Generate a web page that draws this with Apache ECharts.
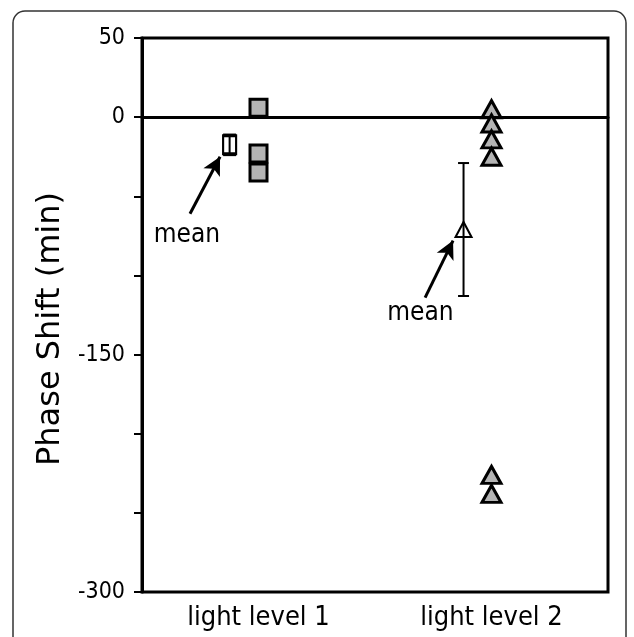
<!DOCTYPE html>
<html>
<head>
<meta charset="utf-8">
<script src="https://cdn.jsdelivr.net/npm/echarts@6/dist/echarts.min.js"></script>
<style>
html, body { margin: 0; padding: 0; background: #fff; }
#main { width: 634px; height: 637px; }
</style>
</head>
<body>
<div id="main"></div>
<script>
var categories = ['light level 1', 'light level 2'];
var yTickLabels = [50, 0, -150, -300];
// single subjects, x = category index + 0.5
var level1Points = [[0.5, 6], [0.5, -23], [0.5, -35]];
var level2Points = [[1.5, 5], [1.5, -4], [1.5, -14], [1.5, -25], [1.5, -226], [1.5, -238]];
// means: [x, mean, low, high]
var level1Mean = [[0.376, -17.5, -24, -11]];
var level2Mean = [[1.38, -71, -113, -29]];
// "mean" notes and their arrows (data coords)
var meanLabels = [[0.193, -74.5], [1.195, -124]];
var meanArrows = [
    [[0.206, -61], [0.335, -25]],
    [[1.215, -114], [1.335, -78]]
];

var FONT = 'DejaVu Sans Condensed';

var myChart = echarts.init(document.getElementById('main'));

function errorBar(capWidth) {
    return function (params, api) {
        var x = api.value(0);
        var lo = api.coord([x, api.value(2)]);
        var hi = api.coord([x, api.value(3)]);
        var st = { stroke: '#000', lineWidth: 2 };
        var h = capWidth / 2;
        return {
            type: 'group',
            children: [
                { type: 'line', shape: { x1: lo[0], y1: lo[1], x2: hi[0], y2: hi[1] }, style: st },
                { type: 'line', shape: { x1: lo[0] - h, y1: lo[1], x2: lo[0] + h, y2: lo[1] }, style: st },
                { type: 'line', shape: { x1: hi[0] - h, y1: hi[1], x2: hi[0] + h, y2: hi[1] }, style: st }
            ]
        };
    };
}

var option = {
    animation: false,
    graphic: [{
        type: 'rect',
        shape: { x: 13, y: 11, width: 613, height: 660, r: 12 },
        style: { fill: 'none', stroke: '#333', lineWidth: 1.5 },
        z: -1
    }],
    grid: {
        left: 142, right: 26, top: 38, bottom: 45,
        show: true, borderColor: '#000', borderWidth: 3
    },
    xAxis: [
        {
            type: 'category',
            data: categories,
            axisLine: { lineStyle: { color: '#000', width: 3 } },
            axisTick: { length: 10, lineStyle: { color: '#000', width: 3 } },
            axisLabel: { color: '#000', fontSize: 27, fontFamily: FONT, margin: 12 },
            splitLine: { show: false }
        },
        {
            type: 'value',
            min: 0, max: 2,
            position: 'bottom',
            show: false
        }
    ],
    yAxis: {
        type: 'value',
        min: -300, max: 50, interval: 50,
        name: 'Phase Shift (min)',
        nameLocation: 'middle',
        nameGap: 73,
        nameTextStyle: {
            color: '#000', fontSize: 32, fontFamily: 'DejaVu Sans',
            padding: [0, 28, 0, 0]
        },
        axisLine: { show: true, lineStyle: { color: '#000', width: 3 } },
        axisTick: { show: true, length: 8, lineStyle: { color: '#000', width: 2 } },
        axisLabel: {
            color: '#000', fontSize: 23, fontFamily: FONT, margin: 17,
            formatter: function (v) { return yTickLabels.indexOf(v) >= 0 ? String(v) : ''; }
        },
        splitLine: { show: false }
    },
    series: [
        {
            type: 'line',
            xAxisIndex: 1,
            data: [],
            markLine: {
                silent: true,
                symbol: 'none',
                label: { show: false },
                lineStyle: { color: '#000', width: 2, type: 'solid' },
                data: [{ yAxis: 0 }]
            }
        },
        {
            type: 'scatter',
            xAxisIndex: 1,
            data: level1Points,
            symbol: 'rect',
            symbolSize: 17,
            itemStyle: { color: '#b4b4b4', borderColor: '#000', borderWidth: 3, opacity: 1 },
            z: 3
        },
        {
            type: 'scatter',
            xAxisIndex: 1,
            data: level2Points,
            symbol: 'triangle',
            symbolSize: [19, 17],
            itemStyle: { color: '#b4b4b4', borderColor: '#000', borderWidth: 3, opacity: 1 },
            z: 3
        },
        {
            type: 'scatter',
            xAxisIndex: 1,
            data: level1Mean,
            symbol: 'rect',
            symbolSize: [13, 18],
            itemStyle: { color: '#fff', borderColor: '#000', borderWidth: 2.5, opacity: 1 },
            z: 3
        },
        {
            type: 'scatter',
            xAxisIndex: 1,
            data: level2Mean,
            symbol: 'triangle',
            symbolSize: [16, 15],
            itemStyle: { color: '#fff', borderColor: '#000', borderWidth: 2, opacity: 1 },
            z: 3
        },
        {
            type: 'custom',
            xAxisIndex: 1,
            data: level1Mean,
            renderItem: errorBar(13),
            z: 4
        },
        {
            type: 'custom',
            xAxisIndex: 1,
            data: level2Mean,
            renderItem: errorBar(11),
            z: 4
        },
        {
            type: 'scatter',
            xAxisIndex: 1,
            data: meanLabels,
            symbolSize: 0,
            itemStyle: { opacity: 1 },
            label: {
                show: true, position: 'inside', formatter: 'mean',
                color: '#000', fontSize: 26, fontFamily: FONT
            },
            markLine: {
                silent: true,
                symbol: ['none', 'arrow'],
                symbolSize: [14, 18],
                label: { show: false },
                lineStyle: { color: '#000', width: 3, type: 'solid', opacity: 1 },
                data: meanArrows.map(function (a) {
                    return [{ coord: a[0] }, { coord: a[1] }];
                })
            }
        }
    ]
};

myChart.setOption(option);
</script>
</body>
</html>
